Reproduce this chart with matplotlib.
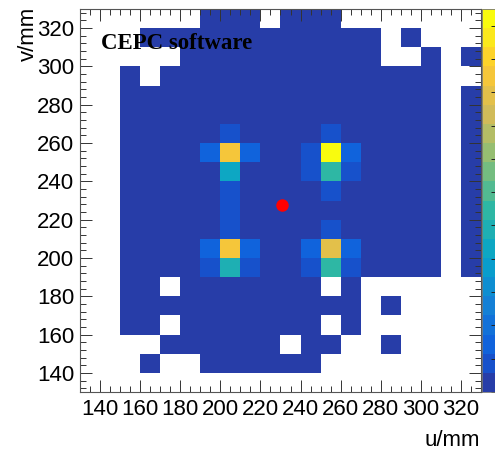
import numpy as np
import matplotlib
matplotlib.use("Agg")
import matplotlib.pyplot as plt
from matplotlib.colors import LinearSegmentedColormap, ListedColormap, BoundaryNorm

# pad edges in mm (10 mm pads)
u_edges = np.arange(130, 331, 10)
v_edges = np.arange(130, 331, 10)

# fired pads, top row first (v = 320-330 down to 130-140), '#' = hit
hit_rows = [
    "......###.###.......",
    "...############.#...",
    ".....##########..#.#",
    "..#.##############..",
    "..################.#",
    "..################.#",
    "..################.#",
    "..################.#",
    "..################.#",
    "..################.#",
    "..################.#",
    "..################.#",
    "..################.#",
    "..################.#",
    "..##.#######.#......",
    "..############.#....",
    "..##.#######.#......",
    "....######.##..#....",
    "...#..######........",
    "....................",
]
base_level = 0.02

# pads with larger content (lower-left corner of pad in mm)
hot_u = [200, 190, 200, 210, 200, 200, 200, 200, 190, 200, 210, 190, 200, 210,
         250, 240, 250, 260, 240, 250, 260, 250, 250, 240, 250, 260, 240, 250, 260]
hot_v = [260, 250, 250, 250, 240, 230, 220, 210, 200, 200, 200, 190, 190, 190,
         260, 250, 250, 250, 240, 240, 240, 230, 210, 200, 200, 200, 190, 190, 190]
hot_val = [0.08, 0.14, 0.95, 0.14, 0.43, 0.08, 0.08, 0.08, 0.14, 0.95, 0.14, 0.08, 0.49, 0.08,
           0.08, 0.08, 1.15, 0.14, 0.08, 0.54, 0.08, 0.08, 0.08, 0.14, 0.89, 0.14, 0.08, 0.54, 0.08]

seed_u, seed_v = 230.5, 227.5

z_max = 1.15
n_contours = 20

# ROOT kBird palette, sampled the way COLZ picks its 20 contour colours
bird_r = [0.2082, 0.0592, 0.0780, 0.0232, 0.1802, 0.5301, 0.8186, 0.9956, 0.9764]
bird_g = [0.1664, 0.3599, 0.5041, 0.6419, 0.7178, 0.7492, 0.7328, 0.7862, 0.9832]
bird_b = [0.5293, 0.8684, 0.8385, 0.7914, 0.6425, 0.4662, 0.3499, 0.1968, 0.0539]
bird = LinearSegmentedColormap.from_list(
    "bird", list(zip(np.linspace(0, 1, 9), zip(bird_r, bird_g, bird_b))), N=255)
idx = [int((k + 0.99) * 255 / n_contours) for k in range(n_contours)]
cmap = ListedColormap([bird(min(i, 254)) for i in idx])
norm = BoundaryNorm(np.linspace(0, z_max, n_contours + 1), n_contours)

# build the pad map
z = np.zeros((len(v_edges) - 1, len(u_edges) - 1))
for r, row in enumerate(hit_rows):
    j = len(hit_rows) - 1 - r
    for i, c in enumerate(row):
        if c == "#":
            z[j, i] = base_level
for u, v, val in zip(hot_u, hot_v, hot_val):
    z[(v - 130) // 10, (u - 130) // 10] = val
z = np.ma.masked_equal(z, 0)

plt.rcParams["font.family"] = ["Liberation Sans", "DejaVu Sans"]

W, H = 495, 459
fig = plt.figure(figsize=(W / 100, H / 100), dpi=100)
ax = fig.add_axes([80 / W, (H - 392) / H, 401 / W, 383 / H])
cax = fig.add_axes([482 / W, (H - 392) / H, 16 / W, 383 / H])

mesh = ax.pcolormesh(u_edges, v_edges, z, cmap=cmap, norm=norm)
ax.plot(seed_u, seed_v, "o", color="red", ms=9, mec="none")

ax.set_xlim(130, 330)
ax.set_ylim(130, 330)
ax.set_xticks(np.arange(140, 330, 20))
ax.set_yticks(np.arange(140, 330, 20))
ax.set_xticks(np.arange(130, 331, 5), minor=True)
ax.set_yticks(np.arange(132, 331, 4), minor=True)
ax.tick_params(which="both", direction="in", top=True, right=True,
               width=0.7, color="#333333")
ax.tick_params(which="major", length=8.5, labelsize=16)
ax.tick_params(which="minor", length=4)
ax.tick_params(axis="x", pad=5)
ax.tick_params(axis="y", pad=4)
for s in ax.spines.values():
    s.set_linewidth(0.8)
    s.set_color("#555555")

cb = fig.colorbar(mesh, cax=cax, ticks=np.arange(0, 1.15, 0.1))
cb.outline.set_linewidth(0.6)
cb.outline.set_edgecolor("#777777")
cax.tick_params(direction="in", length=5, width=0.7, labelright=False, color="#222222")

fig.text(28 / W, 1 - 7 / H, "v/mm", rotation=90, ha="center", va="top", fontsize=16)
fig.text(480 / W, 1 - 441 / H, "u/mm", ha="right", va="center", fontsize=16)
fig.text(101 / W, 1 - 49 / H, "CEPC software", ha="left", va="baseline",
         fontsize=16.5, fontweight="bold", family=["Liberation Serif", "DejaVu Serif"])

fig.savefig("out.png", dpi=100)
